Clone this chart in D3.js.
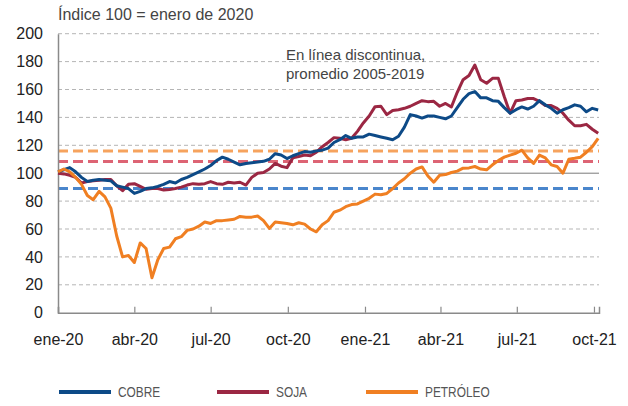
<!DOCTYPE html>
<html>
<head>
<meta charset="utf-8">
<script src="https://cdn.jsdelivr.net/npm/d3@7"></script>
<style>
  body { margin: 0; background: #fff; }
  text { font-family: "Liberation Sans", Arial, sans-serif; }
</style>
</head>
<body>
<div class="chart"></div>
<script>
// Weekly observations, index 100 = enero de 2020
var startDate = new Date(2020, 0, 1);
var endDate = new Date(2021, 9, 7);
var dates = d3.timeDay.range(startDate, endDate, 7);

var cobre = [101, 102.5, 104, 101, 97, 94, 95, 95.5, 95, 94.5,
  91, 90, 89, 85.5, 87, 89, 89.5, 90.5, 92, 94,
  93, 95.5, 97, 99, 101, 103, 105.5, 109, 111.5, 110,
  108, 106, 107, 107.5, 108, 108.5, 110, 114, 113, 110.5,
  112.5, 114, 115.5, 115, 116, 116.5, 118, 122, 124, 127,
  125, 126, 126, 128, 127, 126, 125, 124, 126.5, 133,
  142, 141, 139.5, 141, 141, 140, 139, 141, 147, 153,
  157, 158.5, 154, 154, 152, 151.5, 147, 143, 145.5, 147.5,
  146, 148, 152, 149, 146.5, 143, 145.5, 147, 149, 148,
  144, 146.5, 145.3];

var soja = [100, 99.5, 98.5, 97, 93, 94, 94.5, 95, 95.5, 95.5,
  91, 87.5, 92, 92.5, 90.5, 88.5, 89, 89, 88, 88.3,
  89, 90, 91.5, 92.5, 92, 92.5, 94, 92.5, 92, 93.5,
  93, 93.5, 91.5, 97, 100, 100.5, 103, 107, 105, 104,
  111, 112, 113, 112.5, 115, 119, 122, 125.5, 125, 124,
  125, 130, 136, 141, 147.7, 148, 142, 145, 145.5, 146.5,
  148, 150, 152, 151.3, 151.5, 148, 150, 147.5, 158, 167,
  170, 177.6, 167, 164.5, 168, 168, 155, 143, 152, 152.5,
  153.5, 153.5, 151.5, 148.5, 148.5, 146.5, 143, 138, 134, 134,
  135, 131.5, 128.6];

var petroleo = [101, 103, 101, 97, 92, 84, 81, 87, 83, 75,
  55, 40, 41, 36, 50, 46, 25, 38, 46, 47,
  53, 54.5, 59, 60, 62, 65, 64, 66, 66, 66.5,
  67, 69, 68.5, 68.5, 69.3, 66, 60.4, 65, 64.5, 64,
  63, 64.5, 63.5, 60, 58, 63, 66, 72, 73.5, 76,
  77.5, 78, 80, 82, 85, 84.5, 85.5, 89, 93, 96,
  100, 103, 104.5, 98, 93.5, 98.5, 99, 100.5, 101.5, 103.6,
  103.8, 104.8, 103, 102.4, 106, 109, 111.5, 113, 114.3, 116.5,
  111, 107, 113, 111, 106, 104.8, 100, 110, 110.7, 111.5,
  115, 119, 125];

// Promedio 2005-2019 (dashed reference lines)
var refNames = ["PETRÓLEO", "SOJA", "COBRE"];
var refValues = [116, 108.3, 89];

var seriesNames = ["SOJA", "COBRE", "PETRÓLEO"];
var seriesValues = [soja, cobre, petroleo];
var legendNames = ["COBRE", "SOJA", "PETRÓLEO"];

var lineColors = { "COBRE": "#0d4a87", "SOJA": "#9b2743", "PETRÓLEO": "#f07f22" };
var refColors = { "COBRE": "#4a86cc", "SOJA": "#dd6474", "PETRÓLEO": "#f6a35e" };

var yTicks = [0, 20, 40, 60, 80, 100, 120, 140, 160, 180, 200];
var xTicks = [new Date(2020, 0, 1), new Date(2020, 3, 1), new Date(2020, 6, 1), new Date(2020, 9, 1),
  new Date(2021, 0, 1), new Date(2021, 3, 1), new Date(2021, 6, 1), new Date(2021, 9, 1)];
var xTickLabels = ["ene-20", "abr-20", "jul-20", "oct-20", "ene-21", "abr-21", "jul-21", "oct-21"];

// Set up the chart
var svgWidth = 628;
var svgHeight = 406;
var margin = { top: 33.7, right: 29, bottom: 93.3, left: 58 };
var width = svgWidth - margin.left - margin.right;
var height = svgHeight - margin.top - margin.bottom;

var svg = d3.select(".chart")
  .append("svg")
  .attr("width", svgWidth)
  .attr("height", svgHeight);

var chart = svg.append("g")
  .attr("transform", "translate(" + margin.left + "," + margin.top + ")");

var xScale = d3.scaleTime().domain([startDate, endDate]).range([0, width]);
var yScale = d3.scaleLinear().domain([0, 200]).range([height, 0]);

// Gridlines
chart.append("g")
  .selectAll("line")
  .data(yTicks.filter(function(d) { return d !== 0 && d !== 100; }))
  .enter()
  .append("line")
  .attr("x1", 0)
  .attr("x2", width)
  .attr("y1", function(d) { return yScale(d); })
  .attr("y2", function(d) { return yScale(d); })
  .attr("stroke", "#b5b5b5")
  .attr("stroke-width", 1)
  .attr("stroke-dasharray", "4,3");

// Dashed reference lines
chart.append("g")
  .selectAll("line")
  .data(refNames)
  .enter()
  .append("line")
  .attr("x1", 0)
  .attr("x2", width)
  .attr("y1", function(d, i) { return yScale(refValues[i]); })
  .attr("y2", function(d, i) { return yScale(refValues[i]); })
  .attr("stroke", function(d) { return refColors[d]; })
  .attr("stroke-width", 3)
  .attr("stroke-dasharray", "10,5");

// Base 100 line
chart.append("line")
  .attr("x1", 0)
  .attr("x2", width)
  .attr("y1", yScale(100))
  .attr("y2", yScale(100))
  .attr("stroke", "#7a7a7a")
  .attr("stroke-width", 1);

// Axes
var bottomAxis = d3.axisBottom(xScale)
  .tickValues(xTicks)
  .tickFormat(function(d, i) { return xTickLabels[i]; })
  .tickSize(-6)
  .tickPadding(21);

var leftAxis = d3.axisLeft(yScale)
  .tickValues(yTicks)
  .tickSize(0)
  .tickPadding(15);

var xAxisG = chart.append("g")
  .attr("transform", "translate(0," + height + ")")
  .call(bottomAxis);
xAxisG.select(".domain").attr("stroke", "#8a8a8a").attr("stroke-width", 1.5);
xAxisG.selectAll(".tick line").attr("stroke", "#8a8a8a").attr("stroke-width", 1.2);
xAxisG.selectAll("text").attr("font-size", 16).attr("fill", "#222");

var yAxisG = chart.append("g").call(leftAxis);
yAxisG.select(".domain").attr("stroke", "#8a8a8a").attr("stroke-width", 1.5);
yAxisG.selectAll("text").attr("font-size", 16).attr("fill", "#222");

// Series lines
var line = d3.line()
  .x(function(d, i) { return xScale(dates[i]); })
  .y(function(d) { return yScale(d); });

chart.append("g")
  .selectAll("path")
  .data(seriesNames)
  .enter()
  .append("path")
  .attr("d", function(d, i) { return line(seriesValues[i]); })
  .attr("fill", "none")
  .attr("stroke", function(d) { return lineColors[d]; })
  .attr("stroke-width", 3)
  .attr("stroke-linejoin", "round");

// Title and note
svg.append("text")
  .attr("x", 58)
  .attr("y", 20)
  .attr("font-size", 16)
  .attr("fill", "#444")
  .text("Índice 100 = enero de 2020");

var note = svg.append("text")
  .attr("x", 286)
  .attr("font-size", 15)
  .attr("fill", "#444");
note.append("tspan").attr("x", 286).attr("y", 60).text("En línea discontinua,");
note.append("tspan").attr("x", 286).attr("y", 79).text("promedio 2005-2019");

// Legend (condensed labels)
var legendX = [59, 217, 366];
var legend = svg.append("g")
  .selectAll("g")
  .data(legendNames)
  .enter()
  .append("g")
  .attr("transform", function(d, i) { return "translate(" + legendX[i] + ",392)"; });

legend.append("line")
  .attr("x1", 0)
  .attr("x2", 52)
  .attr("stroke", function(d) { return lineColors[d]; })
  .attr("stroke-width", 4);

legend.append("text")
  .attr("transform", "translate(59,5) scale(0.82,1)")
  .attr("font-size", 14.5)
  .attr("fill", "#555")
  .text(function(d) { return d; });
</script>
</body>
</html>
